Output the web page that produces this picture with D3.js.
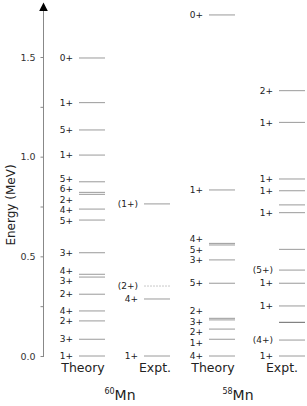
<!DOCTYPE html>
<html><head><meta charset="utf-8">
<script src="https://cdn.jsdelivr.net/npm/d3@7"></script>
<style>
html,body{margin:0;padding:0;background:#fff;}
svg{display:block;font-family:"DejaVu Sans",Verdana,sans-serif;}
</style></head>
<body>
<svg id="chart" width="307" height="406"></svg>
<script>
// ---- data (energies in MeV) ----
const mn60TheoryE = [1.495,1.271,1.134,1.008,0.874,0.821,0.811,0.737,0.682,0.518,0.410,0.396,0.310,0.226,0.176,0.084,0.0];
const mn60TheoryJ = ["0+","1+","5+","1+","5+","6+","2+","4+","5+","3+","4+","3+","2+","4+","2+","3+","1+"];
const mn60ExptE = [0.763,0.351,0.286,0.0];
const mn60ExptJ = ["(1+)","(2+)","4+","1+"];
const mn58TheoryE = [1.711,0.833,0.565,0.557,0.482,0.365,0.189,0.181,0.135,0.084,0.0];
const mn58TheoryJ = ["0+","1+","4+","5+","3+","5+","2+","3+","2+","1+","4+"];
const mn58ExptE = [1.331,1.172,0.888,0.829,0.758,0.719,0.535,0.431,0.365,0.251,0.169,0.080,0.0];
const mn58ExptJ = ["2+","1+","1+","1+","","1+","","(5+)","1+","1+","","(4+)","1+"];
const columnNames = ["60Theory","60Expt","58Theory","58Expt"];
const columnTitles = ["Theory","Expt.","Theory","Expt."];
const isotopeMass = ["60","58"];
const tickValues = [0,0.25,0.5,0.75,1.0,1.25,1.5];

const columns = [
  {E: mn60TheoryE, J: mn60TheoryJ},
  {E: mn60ExptE, J: mn60ExptJ},
  {E: mn58TheoryE, J: mn58TheoryJ},
  {E: mn58ExptE, J: mn58ExptJ}
];

const svg = d3.select("#chart");
const y = d3.scaleLinear().domain([0,1.5]).range([356,57]);
const colX = d3.scaleOrdinal().domain(columnNames).range([79,144,209,279]);
const lineW = 26;
const titleX = d3.scaleOrdinal().domain(columnNames).range([83,155,213,282]);
const isoX = d3.scaleOrdinal().domain(isotopeMass).range([120,238]);
const axisX = 43.5;

// axis
const axis = d3.axisLeft(y).tickValues(tickValues).tickSize(3).tickPadding(5)
  .tickFormat(d => (Math.abs(d*2 - Math.round(d*2)) < 1e-9) ? d3.format(".1f")(d) : "");
const gA = svg.append("g").attr("transform",`translate(${axisX},0)`).call(axis);
gA.select(".domain").remove();
gA.selectAll(".tick line").attr("stroke","#888");
gA.selectAll(".tick text").attr("fill","#333").style("font-size","9.5px").style("font-family","DejaVu Sans");
svg.append("line").attr("x1",axisX).attr("x2",axisX).attr("y1",y(0)+1).attr("y2",8)
  .attr("stroke","#888").attr("stroke-width",1);
svg.append("path").attr("d",`M${axisX},2.5 L${axisX-4.3},11 L${axisX+4.3},11 Z`).attr("fill","#000");

svg.append("text").attr("transform",`translate(11,${205}) rotate(-90)`)
  .attr("text-anchor","middle").attr("dy","0.35em").style("font-size","12px").attr("fill","#222")
  .text("Energy (MeV)");

// levels
const gap = 10.5;
columns.forEach((col,ci) => {
  const name = columnNames[ci];
  const x0 = colX(name);
  const lv = col.E.map((e,i) => ({e, j: col.J[i], y: y(e)}));
  const g = svg.append("g");
  g.selectAll("line").data(lv).join("line")
    .attr("x1",x0).attr("x2",x0+lineW)
    .attr("y1",d=>d.y).attr("y2",d=>d.y)
    .attr("stroke", d => d.j === "(2+)" ? "#c8c8c8" : (ci===3 && d.j==="" && d.e<0.2 ? "#666" : "#9a9a9a"))
    .attr("stroke-dasharray", d => d.j === "(2+)" ? "2,1" : null)
    .attr("stroke-width",1);
  // label dodge
  const labs = lv.filter(d => d.j !== "").map(d => ({j:d.j, p:d.y})).sort((a,b)=>a.p-b.p);
  for (let it=0; it<200; it++) {
    for (let k=0; k<labs.length-1; k++) {
      const ov = gap - (labs[k+1].p - labs[k].p);
      if (ov > 0) { labs[k].p -= ov/2; labs[k+1].p += ov/2; }
    }
  }
  g.selectAll("text").data(labs).join("text")
    .attr("x", x0-6).attr("y", d=>d.p).attr("dy","0.36em")
    .attr("text-anchor","end").style("font-size","9px").attr("fill","#222")
    .text(d=>d.j);
  svg.append("text").attr("x",titleX(name)).attr("y",372).attr("text-anchor","middle")
    .style("font-size","12.5px").attr("fill","#222").text(columnTitles[ci]);
});

// isotope labels
isotopeMass.forEach(m => {
  const t = svg.append("text").attr("x",isoX(m)).attr("y",400).attr("text-anchor","middle").attr("fill","#222");
  t.append("tspan").style("font-size","8px").attr("dy","-6").text(m);
  t.append("tspan").style("font-size","14px").attr("dy","6").text("Mn");
});
</script>
</body></html>
